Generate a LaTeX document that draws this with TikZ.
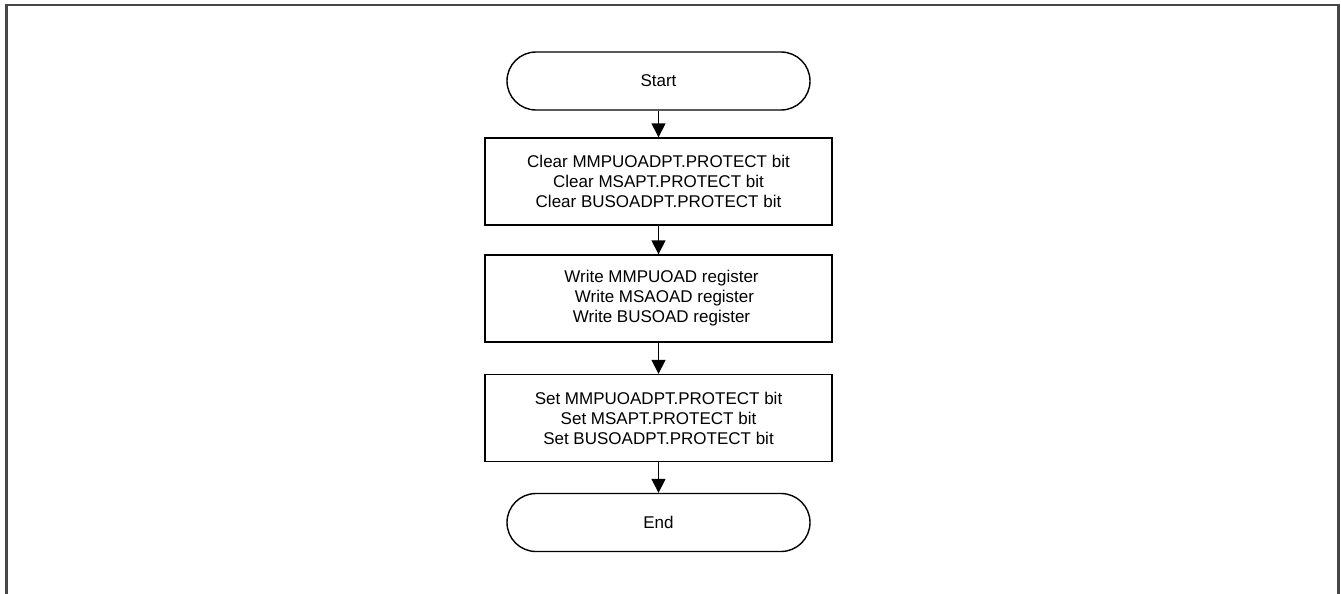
\documentclass[tikz,border=0pt]{standalone}
\usepackage{fontspec}
\setmainfont{Liberation Sans}
\usetikzlibrary{arrows.meta}
\begin{document}
\begin{tikzpicture}[x=1pt,y=-1pt,
  font=\fontsize{17}{20}\selectfont,
  stepbox/.style={draw=black,line width=1.4pt,minimum width=347pt,minimum height=87pt,align=center,inner sep=0pt},
  termbox/.style={draw=black,line width=1.4pt,minimum width=303pt,minimum height=58pt,rounded corners=29pt,inner sep=0pt},
  flow/.style={line width=1.6pt,-{Triangle[width=14pt,length=14pt]}},
  frame/.style={draw=black!72,line width=2.4pt}]
\useasboundingbox (0,0) rectangle (1341,594);
\draw[frame] (6.5,594) -- (6.5,5) -- (1338.5,5) -- (1338.5,594);
\node[termbox] (start) at (658.5,81) {Start};
\node[stepbox] (clr) at (658.5,181.5) {Clear MMPUOADPT.PROTECT bit\\Clear MSAPT.PROTECT bit\\Clear BUSOADPT.PROTECT bit};
\node[stepbox] (wr) at (658.5,298.5) {\hspace*{6pt}Write MMPUOAD register\\\hspace*{12pt}Write MSAOAD register\\\hspace*{6pt}Write BUSOAD register};
\node[stepbox] (set) at (658.5,418) {Set MMPUOADPT.PROTECT bit\\Set MSAPT.PROTECT bit\\Set BUSOADPT.PROTECT bit};
\node[termbox] (end) at (658.5,522.5) {End};
\draw[flow] (start) -- (clr);
\draw[flow] (clr) -- (wr);
\draw[flow] (wr) -- (set);
\draw[flow] (set) -- (end);
\end{tikzpicture}
\end{document}
